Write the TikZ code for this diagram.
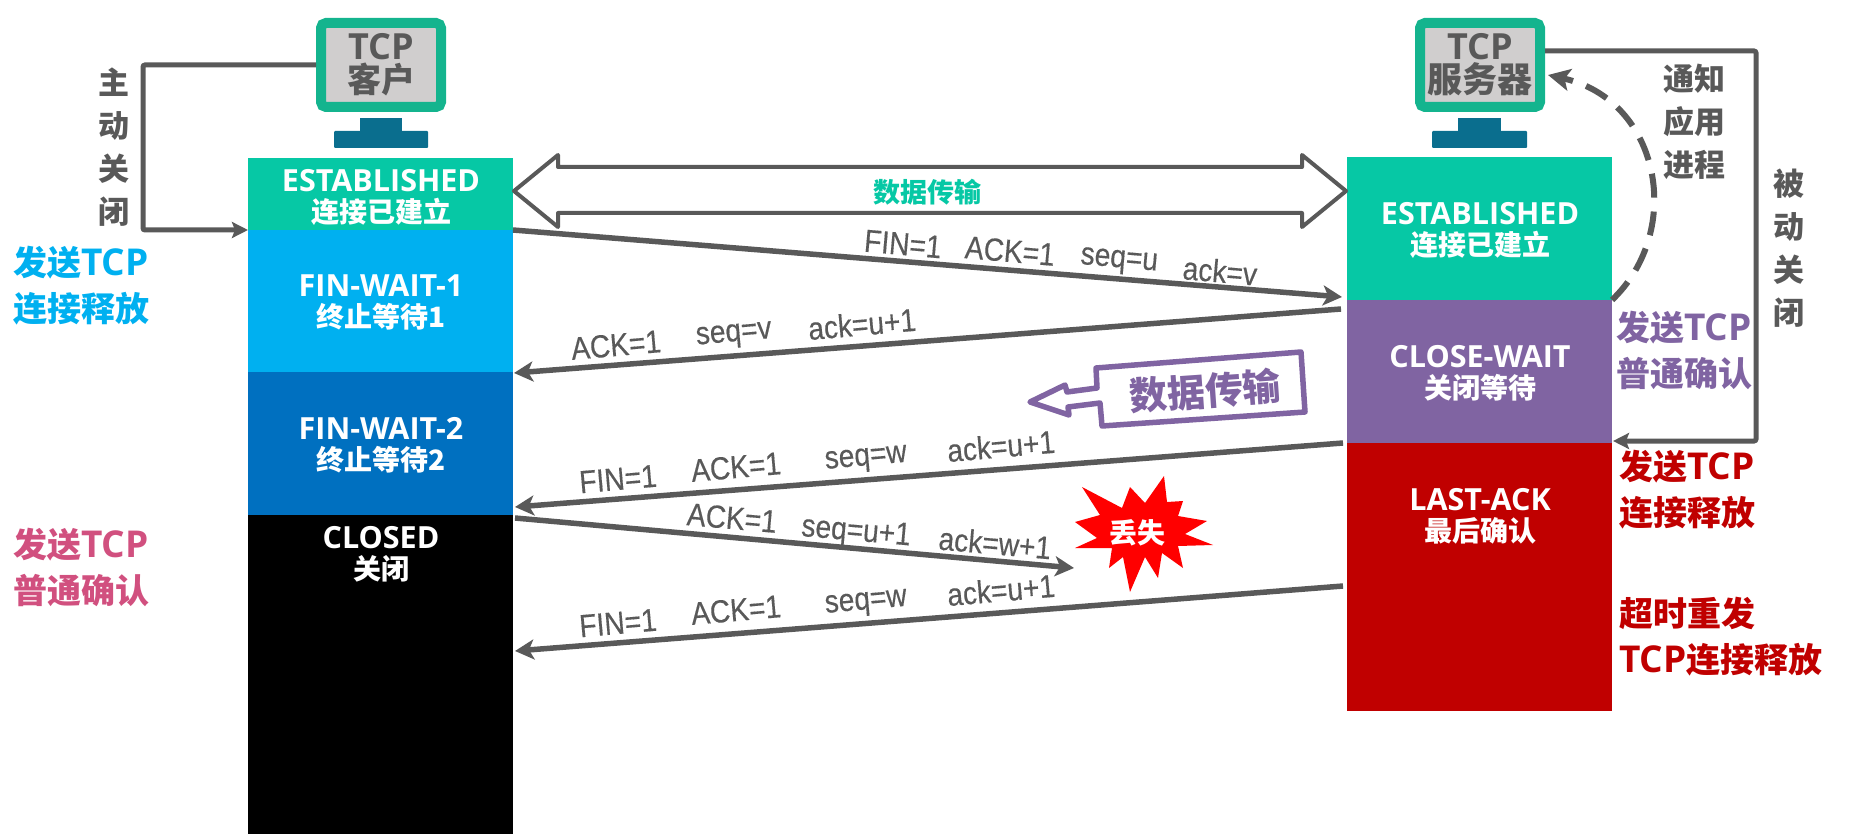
\documentclass[tikz,border=0pt]{standalone}
\usepackage{fontspec}
\usetikzlibrary{arrows.meta}
\setmainfont{Open Sans}
\newfontfamily\cjk{Noto Sans CJK SC}
\newfontfamily\msgfont[FakeStretch=0.88,FakeBold=0.3]{Liberation Sans}
\newcommand{\zh}[2]{{\fontsize{#1}{#1}\selectfont\cjk #2}}
\definecolor{estabgreen}{RGB}{6,200,165}
\definecolor{waitblue}{RGB}{0,176,240}
\definecolor{waitdark}{RGB}{0,112,192}
\definecolor{closepurple}{RGB}{128,100,162}
\definecolor{lastred}{RGB}{192,0,0}
\definecolor{ackpink}{RGB}{209,80,127}
\definecolor{linegray}{RGB}{89,89,89}
\definecolor{screengreen}{RGB}{20,180,142}
\definecolor{screengray}{RGB}{208,206,206}
\definecolor{standblue}{RGB}{10,110,142}
\tikzset{
  statebox/.style={
    anchor=north west,
    inner sep=0pt,
    outer sep=0pt,
    minimum width=265,
  },
  statetext/.style={
    text=white,
    align=center,
    inner sep=0pt,
    font=\fontsize{30.5}{31}\selectfont\bfseries
  },
  monitor/.style={
    draw=screengreen,
    fill=screengray,
    line width=10pt,
    rounded corners=5pt,
    minimum width=120,
    minimum height=84,
    inner sep=0pt,
    align=center,
    text=linegray,
    font=\fontsize{36}{33}\selectfont\bfseries
  },
  vertlabel/.style={
    text=linegray,
    align=center,
    inner sep=0pt,
    font=\fontsize{31}{43}\selectfont\bfseries\cjk
  },
  sidelabel/.style={
    anchor=west,
    align=left,
    inner sep=0pt,
    font=\fontsize{37}{46}\selectfont\bfseries
  },
  msglabel/.style={
    text=linegray,
    inner sep=0pt,
    font=\fontsize{32}{32}\selectfont\msgfont
  },
  msgline/.style={
    -{Stealth[length=19pt,width=20pt,inset=5pt]},
    draw=linegray,
    line width=5.5pt
  },
  loopline/.style={
    -{Stealth[length=16pt,width=16pt,inset=3pt]},
    draw=linegray,
    line width=5pt,
    rounded corners=2pt
  }
}

\begin{document}
\begin{tikzpicture}[x=1pt,y=-1pt]
    \useasboundingbox (0,0) rectangle (1867,834);

    % 客户端状态
    \node[statebox,fill=estabgreen,minimum height=72] (estabc) at (248,158) {};
    \node[statebox,fill=waitblue,minimum height=142] (waita) at (248,230) {};
    \node[statebox,fill=waitdark,minimum height=143] (waitb) at (248,372) {};
    \node[statebox,fill=black,minimum height=319] (closed) at (248,515) {};
    \node[statetext] (estabctext) at (381,197) {ESTABLISHED\\\zh{28}{连接已建立}};
    \node[statetext] (waitatext) at (381,302) {FIN-WAIT-1\\\zh{28}{终止等待1}};
    \node[statetext] (waitbtext) at (381,445) {FIN-WAIT-2\\\zh{28}{终止等待2}};
    \node[statetext] (closedtext) at (381,554) {CLOSED\\\zh{28}{关闭}};

    % 服务器状态
    \node[statebox,fill=estabgreen,minimum height=143] (estabs) at (1347,157) {};
    \node[statebox,fill=closepurple,minimum height=143] (closewait) at (1347,300) {};
    \node[statebox,fill=lastred,minimum height=268] (lastack) at (1347,443) {};
    \node[statetext] (estabstext) at (1480,230) {ESTABLISHED\\\zh{28}{连接已建立}};
    \node[statetext] (closewaittext) at (1480,373) {CLOSE-WAIT\\\zh{28}{关闭等待}};
    \node[statetext] (lastacktext) at (1480,516) {LAST-ACK\\\zh{28}{最后确认}};

    % 显示器
    \node[monitor] (client) at (381,65) {TCP\\\zh{34}{客户}};
    \fill[standblue] (360,118) rectangle (402,132);
    \fill[standblue,rounded corners=1pt] (334,131) rectangle (428,148);
    \node[monitor] (server) at (1480,65) {TCP\\\zh{35}{服务器}};
    \fill[standblue] (1458,118) rectangle (1501,132);
    \fill[standblue,rounded corners=1pt] (1432,131) rectangle (1527,148);

    % 主动关闭 / 被动关闭
    \coordinate (activeturn) at (143,230);
    \draw[loopline] (client.west) -| (activeturn) -- (estabc.south west);
    \node[vertlabel] (activetext) at (114,147) {主\\动\\关\\闭};
    \coordinate (passivefrom) at (1545,51);
    \coordinate (passiveturn) at (1756,441);
    \coordinate (passiveto) at (1613,441);
    \draw[loopline] (passivefrom) -| (passiveturn) -- (passiveto);
    \node[vertlabel] (passivetext) at (1789,248) {被\\动\\关\\闭};
    \node[vertlabel] (notifytext) at (1694,122) {通知\\应用\\进程};

    % 通知应用进程
    \coordinate (notifyto) at (1548,75);
    \draw[-{Stealth[length=22pt,width=22pt,inset=5pt]},draw=linegray,line width=6pt,dash pattern=on 24pt off 14pt]
        (estabs.south east) .. controls (1685,230) and (1660,100) .. (notifyto);

    % 数据传输
    \draw[draw=linegray,line width=4pt,line join=round,fill=white]
        (514,191) -- (558,155) -- (558,167) -- (1302,167) -- (1302,155) -- (1346,191)
        -- (1302,227) -- (1302,213) -- (558,213) -- (558,227) -- cycle;
    \node[inner sep=0pt,text=estabgreen,font=\fontsize{27}{27}\selectfont\bfseries\cjk] (datatext) at (927,192) {数据传输};
    \draw[draw=closepurple,line width=5.5pt,line join=round,fill=white]
        (1030,402) -- (1065,385) -- (1067,392) -- (1097,388) -- (1096,368) -- (1301,352)
        -- (1305,412) -- (1102,426) -- (1100,403) -- (1068,407) -- (1069,415) -- cycle;
    \node[inner sep=0pt,rotate=4,text=closepurple,font=\fontsize{38}{38}\selectfont\bfseries\cjk] (calloutext) at (1205,391) {数据传输};

    % 报文
    \coordinate (finato) at (1342,297);
    \coordinate (ackafrom) at (1341,309);
    \coordinate (ackato) at (514,373);
    \coordinate (finbfrom) at (1343,443);
    \coordinate (finbto) at (515,507);
    \coordinate (lostfrom) at (515,518);
    \coordinate (lostto) at (1074,568);
    \coordinate (fincfrom) at (1343,586);
    \coordinate (fincto) at (515,651);
    \draw[msgline] (estabc.south east) -- (finato);
    \draw[msgline] (ackafrom) -- (ackato);
    \draw[msgline] (finbfrom) -- (finbto);
    \draw[msgline] (lostfrom) -- (lostto);
    \draw[msgline] (fincfrom) -- (fincto);

    \foreach \lbl/\txt/\x/\y in {fa/FIN=1/903/244,fb/ACK=1/1010/251,fc/seq=u/1119/262,fd/ack=v/1220/271}
        \node[msglabel,rotate=-5] (\lbl) at (\x,\y) {\txt};
    \foreach \lbl/\txt/\x/\y in {aa/ACK=1/616/345,ab/seq=v/734/336,ac/ack=u+1/862/324}
        \node[msglabel,rotate=5] (\lbl) at (\x,\y) {\txt};
    \foreach \lbl/\txt/\x/\y in {ga/FIN=1/618/479,gb/ACK=1/736/467,gc/seq=w/866/460,gd/ack=u+1/1001/446}
        \node[msglabel,rotate=5] (\lbl) at (\x,\y) {\txt};
    \foreach \lbl/\txt/\x/\y in {la/ACK=1/732/518,lb/seq=u+1/856/533,lc/ack=w+1/995/543}
        \node[msglabel,rotate=-5] (\lbl) at (\x,\y) {\txt};
    \foreach \lbl/\txt/\x/\y in {ha/FIN=1/618/623,hb/ACK=1/736/610,hc/seq=w/866/604,hd/ack=u+1/1001/590}
        \node[msglabel,rotate=5] (\lbl) at (\x,\y) {\txt};

    % 丢失
    \fill[red,line join=round] (1082,487) -- (1122,508) -- (1130,487) -- (1145,503) -- (1164,476)
        -- (1167,502) -- (1183,501) -- (1178,516) -- (1207,521) -- (1185,534) -- (1213,545)
        -- (1178,546) -- (1183,568) -- (1162,553) -- (1158,578) -- (1145,557) -- (1130,592)
        -- (1123,557) -- (1109,568) -- (1112,548) -- (1075,548) -- (1097,538) -- (1075,522)
        -- (1100,515) -- cycle;
    \node[inner sep=0pt,text=white,font=\fontsize{28}{28}\selectfont\bfseries\cjk] (losttext) at (1137,533) {丢失};

    % 说明文字
    \node[sidelabel,text=waitblue] (sendfin) at (13,286) {\zh{34}{发送}TCP\\\zh{34}{连接释放}};
    \node[sidelabel,text=ackpink] (sendack) at (13,567) {\zh{34}{发送}TCP\\\zh{34}{普通确认}};
    \node[sidelabel,text=closepurple] (sendackb) at (1616,350) {\zh{34}{发送}TCP\\\zh{34}{普通确认}};
    \node[sidelabel,text=lastred] (sendfinb) at (1619,490) {\zh{34}{发送}TCP\\\zh{34}{连接释放}};
    \node[sidelabel,text=lastred] (resend) at (1619,637) {\zh{34}{超时重发}\\TCP\zh{34}{连接释放}};
\end{tikzpicture}
\end{document}
